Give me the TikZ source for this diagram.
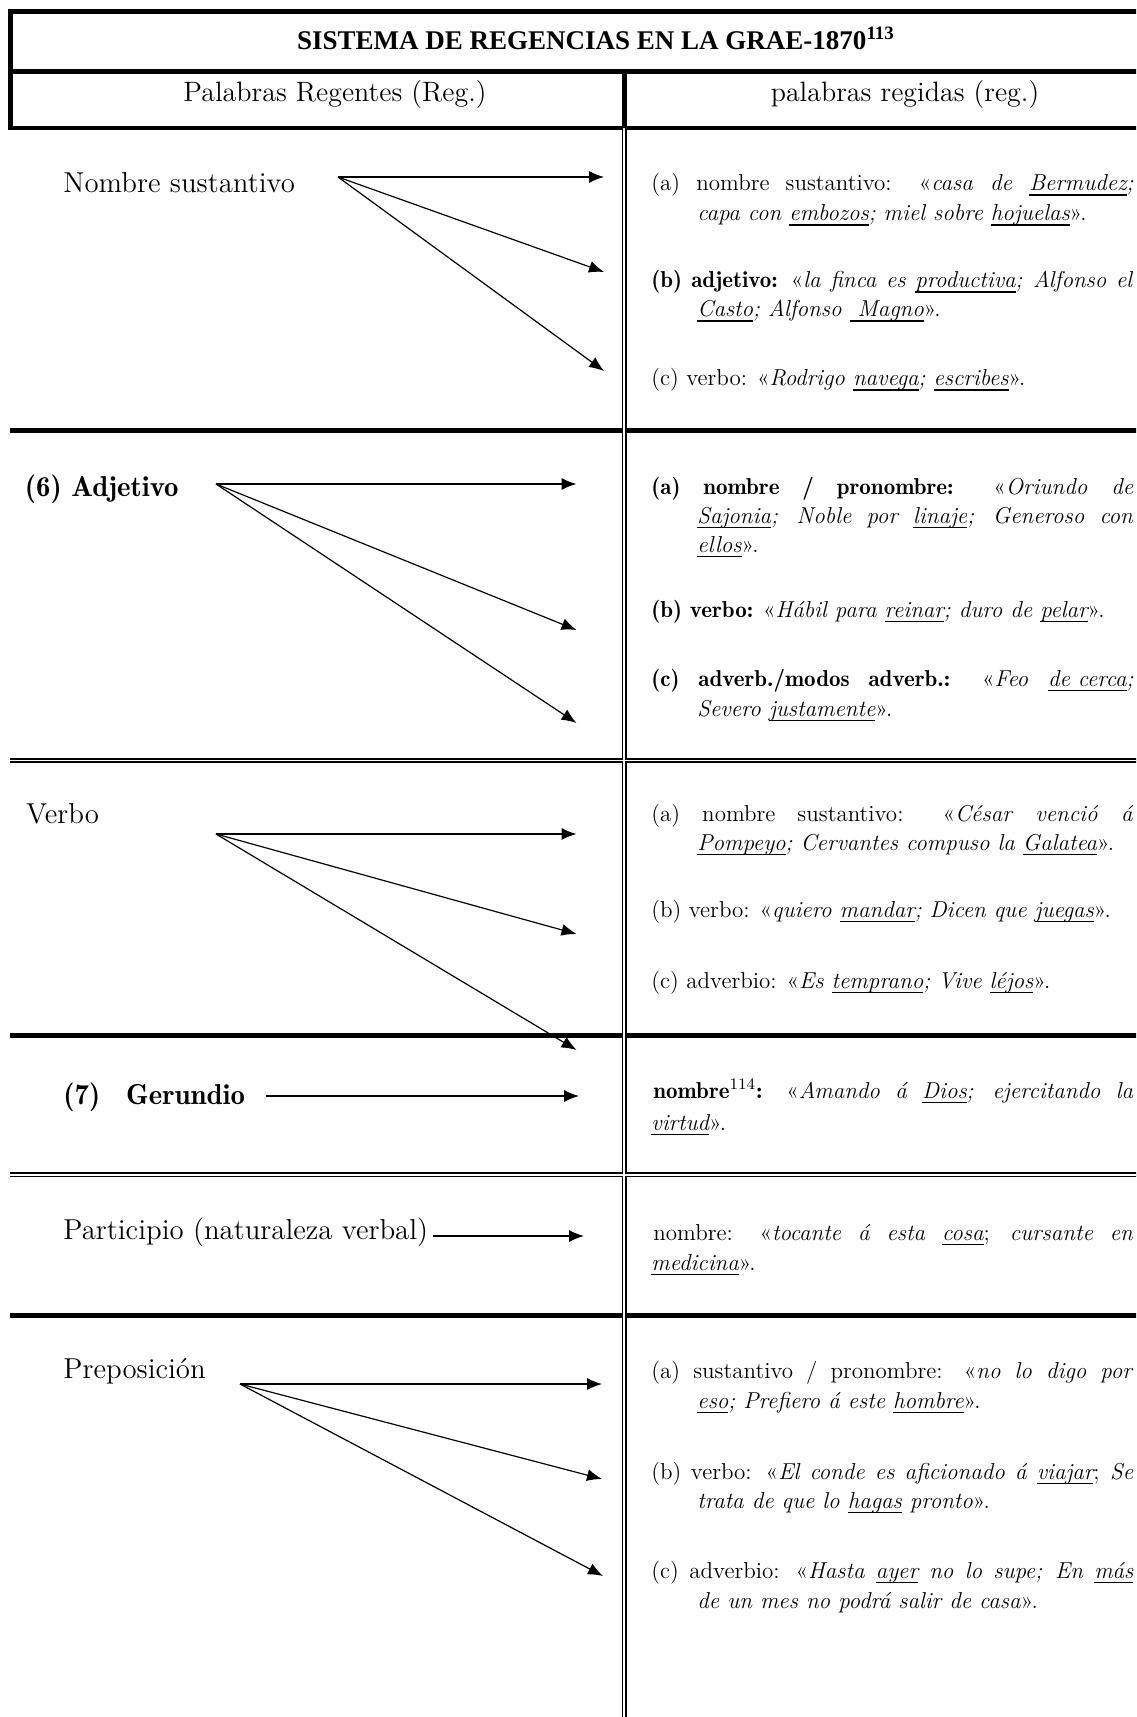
\documentclass[tikz,border=0pt]{standalone}
\usepackage{fontspec}
\newfontfamily\titlefont{Liberation Serif}
\usetikzlibrary{arrows.meta}

% underlined word: a rule under the box, at a fixed depth
\newcommand\uw[1]{\setbox0\hbox{#1}\rlap{\rule[-2.3pt]{\wd0}{0.55pt}}\box0\relax}
% a full-width justified line
\newcommand\jline[2]{\makebox[#1][s]{#2}}
% bold (non-extended) weight
\newcommand\bd[1]{{\fontseries{b}\selectfont #1}}

\tikzset{
  heavy/.style={line width=2.15pt},
  dbl/.style={double, double distance=0.85pt, line width=0.85pt},
  link/.style={line width=0.6pt, -{Latex[length=7.5pt,width=6pt]}},
  lab/.style={anchor=base west, inner sep=0pt, font=\fontsize{14.4}{17}\selectfont},
  head/.style={anchor=base, inner sep=0pt, font=\fontsize{14}{17}\selectfont},
  ex/.style={anchor=base west, inner sep=0pt, font=\fontsize{11.5}{14}\selectfont},
}

\begin{document}
\begin{tikzpicture}[x=0.5pt,y=-0.5pt]
\fill[white] (0,0) rectangle (1136,1717);
\path[use as bounding box] (0,0) rectangle (1136,1717);
\clip (0,0) rectangle (1136,1717);

% ---- frame of the table ----
\draw[heavy] (1150,11.5) -- (10.5,11.5) -- (10.5,128) -- (1150,128);
\draw[heavy] (10.5,71.5) -- (1150,71.5);
\draw[heavy] (624.5,71.5) -- (624.5,128);
\draw[heavy] (10,430.6) -- (1150,430.6);
\draw[heavy] (10,1035.6) -- (1150,1035.6);
\draw[heavy] (10,1315.5) -- (1150,1315.5);
\draw[dbl] (10,760.5) -- (1150,760.5);
\draw[dbl] (10,1174.8) -- (1150,1174.8);
\draw[dbl] (624.2,128) -- (624.2,1730);
\draw[white, line width=0.85pt] (621.6,760.5) -- (626.8,760.5);
\draw[white, line width=0.85pt] (621.6,1174.8) -- (626.8,1174.8);

% ---- headings ----
\node[anchor=base, inner sep=0pt] (title) at (596,50)
  {\titlefont\bfseries\fontsize{13.5}{16}\selectfont SISTEMA DE REGENCIAS EN LA GRAE-1870\textsuperscript{113}};
\node[head] (hreg) at (335,102) {Palabras Regentes (Reg.)};
\node[head] (hrgd) at (905,102) {palabras regidas (reg.)};

% ---- governing words ----
\node[lab] (nsus) at (63,193) {Nombre sustantivo};
\node[lab] (adj) at (24.5,496) {\bd{(6) Adjetivo}};
\node[lab] (verb) at (25.7,823) {Verbo};
\node[lab] (ger) at (63,1104) {\bd{(7)\hspace{13pt}Gerundio}};
\node[lab] (part) at (63,1239) {Participio (naturaleza verbal)};
\node[lab] (prep) at (63,1378) {Preposición};

% ---- governed words ----
\node[ex] (r1a1) at (651,191) {\jline{241pt}{(a) nombre sustantivo: «\textit{casa de \uw{Bermudez};}}};
\node[ex] (r1a2) at (697,221) {\textit{capa con \uw{embozos}; miel sobre \uw{hojuelas}}».};
\node[ex] (r1b1) at (651,288) {\jline{241pt}{\bd{(b) adjetivo:} «\textit{la finca es \uw{productiva}; Alfonso el}}};
\node[ex] (r1b2) at (697,317) {\textit{\uw{Casto}; Alfonso \uw{\ Magno}}».};
\node[ex] (r1c) at (651,386) {(c) verbo: «\textit{Rodrigo \uw{navega}; \uw{escribes}}».};

\node[ex] (r2a1) at (651,494) {\jline{241pt}{\bd{(a) nombre / pronombre:} «\textit{Oriundo de}}};
\node[ex] (r2a2) at (697,523) {\jline{218pt}{\textit{\uw{Sajonia}; Noble por \uw{linaje}; Generoso con}}};
\node[ex] (r2a3) at (697,552) {\textit{\uw{ellos}}».};
\node[ex] (r2b) at (651,617) {\bd{(b) verbo:} «\textit{Hábil para \uw{reinar}; duro de \uw{pelar}}».};
\node[ex] (r2c1) at (651,686) {\jline{241pt}{\bd{(c) adverb./modos adverb.:} «\textit{Feo \uw{de cerca};}}};
\node[ex] (r2c2) at (697,716) {\textit{Severo \uw{justamente}}».};

\node[ex] (r3a1) at (651,821) {\jline{241pt}{(a) nombre sustantivo: «\textit{César venció á}}};
\node[ex] (r3a2) at (697,850) {\textit{\uw{Pompeyo}; Cervantes compuso la \uw{Galatea}}».};
\node[ex] (r3b) at (651,917) {(b) verbo: «\textit{quiero \uw{mandar}; Dicen que \uw{juegas}}».};
\node[ex] (r3c) at (651,988) {(c) adverbio: «\textit{Es \uw{temprano}; Vive \uw{léjos}}».};

\node[ex] (r4a) at (653,1098) {\jline{240pt}{\bd{nombre}\textsuperscript{114}\bd{:} «\textit{Amando á \uw{Dios}; ejercitando la}}};
\node[ex] (r4b) at (651,1130) {\textit{\uw{virtud}}».};

\node[ex] (r5a) at (653,1240) {\jline{240pt}{nombre: «\textit{tocante á esta \uw{cosa}}; \textit{cursante en}}};
\node[ex] (r5b) at (651,1270) {\textit{\uw{medicina}}».};

\node[ex] (r6a1) at (651,1378) {\jline{241pt}{(a) sustantivo / pronombre: «\textit{no lo digo por}}};
\node[ex] (r6a2) at (697,1408) {\textit{\uw{eso}; Prefiero á este \uw{hombre}}».};
\node[ex] (r6b1) at (651,1479) {\jline{241pt}{(b) verbo: «\textit{El conde es aficionado á \uw{viajar}}; \textit{Se}}};
\node[ex] (r6b2) at (697,1508) {\textit{trata de que lo \uw{hagas} pronto}».};
\node[ex] (r6c1) at (651,1578) {\jline{241pt}{(c) adverbio: «\textit{Hasta \uw{ayer} no lo supe; En \uw{más}}}};
\node[ex] (r6c2) at (697,1608) {\textit{de un mes no podrá salir de casa}».};

% ---- connector ends ----
\coordinate (nsO) at (338,177);
\coordinate (nsA) at (604,177);
\coordinate (nsB) at (604,272);
\coordinate (nsC) at (604,371);
\coordinate (adO) at (216,484);
\coordinate (adA) at (576.5,484);
\coordinate (adB) at (576.5,630);
\coordinate (adC) at (576.5,723);
\coordinate (vbO) at (216,834);
\coordinate (vbA) at (576.5,834);
\coordinate (vbB) at (576.5,934);
\coordinate (vbC) at (576.5,1050);
\coordinate (grO) at (265.7,1096);
\coordinate (grA) at (579,1096);
\coordinate (ptO) at (433,1236);
\coordinate (ptA) at (584,1236);
\coordinate (prO) at (240,1384);
\coordinate (prA) at (602,1384);
\coordinate (prB) at (602,1479);
\coordinate (prC) at (603,1576);

% ---- connectors ----
\draw[link] (nsO) -- (nsA);
\draw[link] (nsO) -- (nsB);
\draw[link] (nsO) -- (nsC);
\draw[link] (adO) -- (adA);
\draw[link] (adO) -- (adB);
\draw[link] (adO) -- (adC);
\draw[link] (vbO) -- (vbA);
\draw[link] (vbO) -- (vbB);
\draw[link] (vbO) -- (vbC);
\draw[link] (grO) -- (grA);
\draw[link] (ptO) -- (ptA);
\draw[link] (prO) -- (prA);
\draw[link] (prO) -- (prB);
\draw[link] (prO) -- (prC);
\end{tikzpicture}
\end{document}
